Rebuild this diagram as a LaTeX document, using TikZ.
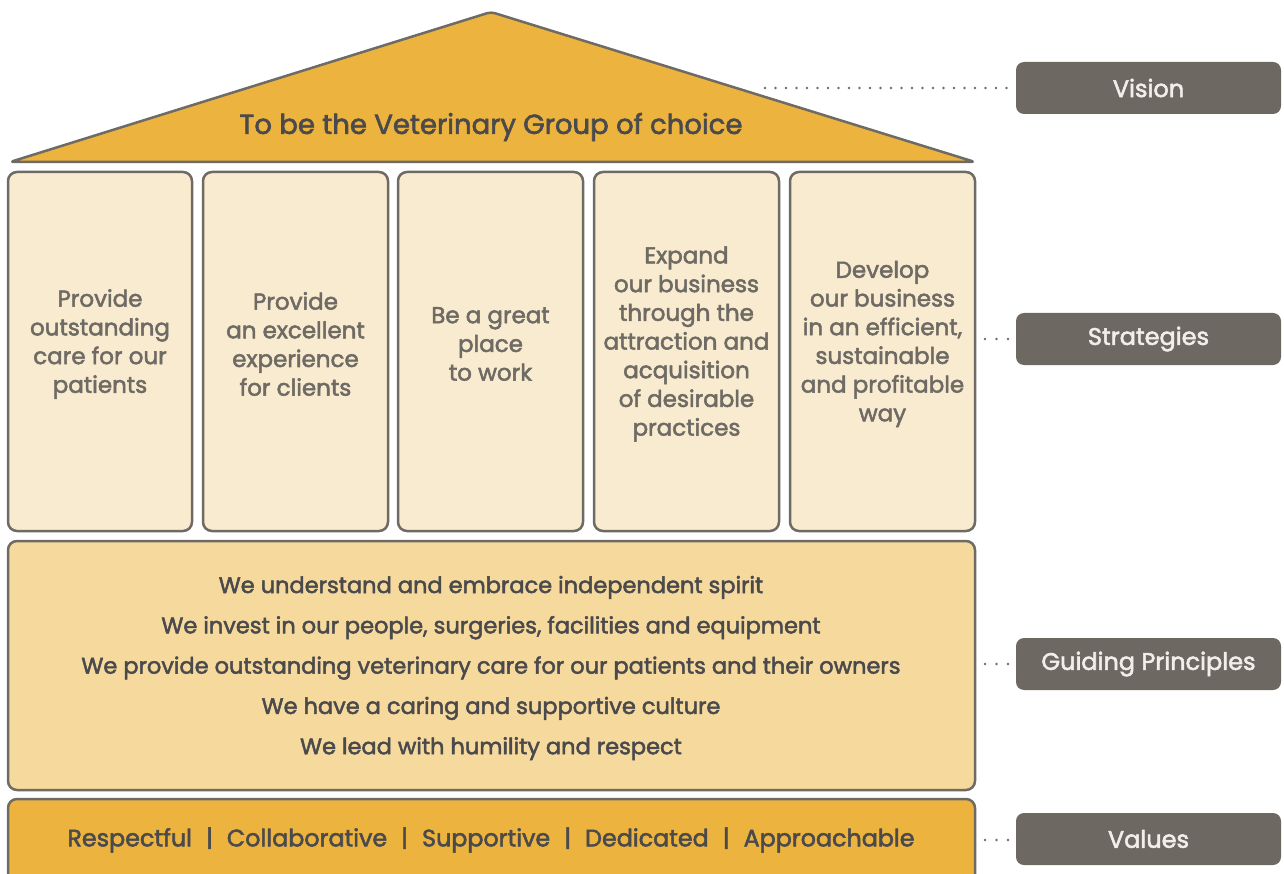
\documentclass[tikz,border=0pt]{standalone}
\usepackage{fontspec}
\setmainfont{Poppins}[RawFeature={embolden=2.2}]
\usetikzlibrary{positioning}
\definecolor{roofc}{HTML}{ECB33F}
\definecolor{pillarc}{HTML}{F9EBCF}
\definecolor{guidec}{HTML}{F6D99D}
\definecolor{edgec}{HTML}{6E6A64}
\definecolor{labelc}{HTML}{6D6862}
\definecolor{labeltext}{HTML}{F2EEEA}
\definecolor{darktext}{HTML}{4A4A4C}
\definecolor{pillartext}{HTML}{6E6A64}
\newcommand{\sepbar}{\hspace{14pt}|\hspace{14pt}}
\tikzset{
  part/.style={draw=edgec, line width=2.5pt, rounded corners=9pt},
  pillar/.style={part, fill=pillarc},
  pillartxt/.style={align=center, text=pillartext, font=\fontsize{23}{28.7}\selectfont, inner sep=0pt},
  tag/.style={fill=labelc, rounded corners=8pt, minimum width=265pt, minimum height=52pt, inner sep=0pt, text=labeltext, font=\fontsize{24}{28}\selectfont},
  dots/.style={draw=edgec, line width=2.6pt, dash pattern=on 0pt off 10.5pt, line cap=round},
  shortdots/.style={draw=edgec, line width=2.6pt, dash pattern=on 0pt off 11.5pt, line cap=round}
}
\begin{document}
\begin{tikzpicture}[x=1pt,y=-1pt]
\useasboundingbox (0,0) rectangle (1284,874);
\clip (0,0) rectangle (1284,874);
% roof
\draw[draw=edgec, fill=roofc, line width=2.5pt, rounded corners=4pt, line join=round]
  (10,162) -- (491,12) -- (975,162) -- cycle;
\node[text=darktext, font=\fontsize{27.5}{32}\selectfont, inner sep=0pt] (vision) at (491,127) {To be the Veterinary Group of choice};
% pillars
\draw[pillar] (8,172) rectangle (192,531);
\draw[pillar] (203,172) rectangle (388,531);
\draw[pillar] (398,172) rectangle (583,531);
\draw[pillar] (594,172) rectangle (779,531);
\draw[pillar] (790,172) rectangle (975,531);
\node[pillartxt] (s1) at (100,344) {Provide\\outstanding\\care for our\\patients};
\node[pillartxt] (s2) at (295.5,344) {Provide\\an excellent\\experience\\for clients};
\node[pillartxt] (s3) at (490.5,344) {Be a great\\place\\to work};
\node[pillartxt] (s4) at (686.5,344) {Expand\\our business\\through the\\attraction and\\acquisition\\of desirable\\practices};
\node[pillartxt] (s5) at (882.5,344) {Develop\\our business\\in an efficient,\\sustainable\\and profitable\\way};
% guiding principles
\draw[part, fill=guidec] (8,541) rectangle (975,790);
\node[align=center, text=darktext, font=\fontsize{22.5}{40.3}\selectfont, inner sep=0pt] (gp) at (491,668)
 {We understand and embrace independent spirit\\
  We invest in our people, surgeries, facilities and equipment\\
  We provide outstanding veterinary care for our patients and their owners\\
  We have a caring and supportive culture\\
  We lead with humility and respect};
% values
\draw[part, fill=roofc] (8,799) rectangle (975,900);
\node[text=darktext, font=\fontsize{23.8}{28}\selectfont, inner sep=0pt] (vals) at (491,840)
 {Respectful\sepbar Collaborative\sepbar Supportive\sepbar Dedicated\sepbar Approachable};
% labels
\node[tag] (lv) at (1148.5,88) {\raisebox{-1.5pt}{Vision}};
\node[tag] (ls) at (1148.5,339) {\raisebox{-2pt}{Strategies}};
\node[tag] (lg) at (1148.5,664) {\raisebox{-2.5pt}{Guiding Principles}};
\node[tag] (lval) at (1148.5,839) {\raisebox{-2pt}{Values}};
\coordinate (cv) at (765,88);
\coordinate (cs) at (985,339);
\coordinate (cg) at (985,664);
\coordinate (cval) at (985,840);
\draw[dots] (cv) -- ([xshift=-8pt]lv.west);
\draw[shortdots] (cs) -- ([xshift=-7pt]ls.west);
\draw[shortdots] (cg) -- ([xshift=-7pt]lg.west);
\draw[shortdots] (cval) -- ([xshift=-7pt,yshift=-1pt]lval.west);
\end{tikzpicture}
\end{document}
